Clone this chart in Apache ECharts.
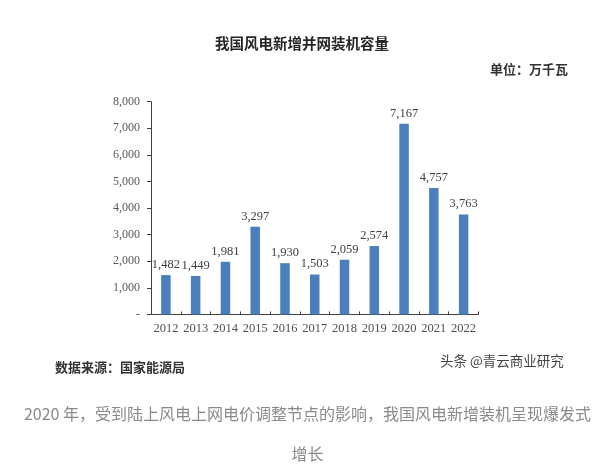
<!DOCTYPE html>
<html>
<head>
<meta charset="utf-8">
<script src="https://cdn.jsdelivr.net/npm/echarts@6/dist/echarts.min.js"></script>
<style>
html,body{margin:0;padding:0;background:#fff;}
#c{width:615px;height:469px;}
</style>
</head>
<body>
<div id="c"></div>
<script>
var years = ['2012','2013','2014','2015','2016','2017','2018','2019','2020','2021','2022'];
var capacity = [1482, 1449, 1981, 3297, 1930, 1503, 2059, 2574, 7167, 4757, 3763];
var yMax = 8000;
var yStep = 1000;
var titleText = '我国风电新增并网装机容量';
var unitText = '单位：万千瓦';
var sourceText = '数据来源：国家能源局';
var markText = '头条 @青云商业研究';
var captionLine1 = '2020 年，受到陆上风电上网电价调整节点的影响，我国风电新增装机呈现爆发式';
var captionLine2 = '增长';

function fmt(v){
  if (v === 0) return '-';
  return String(v).replace(/\B(?=(\d{3})+(?!\d))/g, ',');
}
var serif = '"Liberation Serif","Times New Roman",serif';
var cjk = '"Noto Sans CJK SC","Noto Sans",sans-serif';

var chart = echarts.init(document.getElementById('c'));
chart.setOption({
  animation: false,
  backgroundColor: '#ffffff',
  grid: {left: 151, right: 136.5, top: 101.7, bottom: 154.5, containLabel: false},
  xAxis: {
    type: 'category',
    data: years,
    axisLine: {lineStyle: {color: '#404040', width: 1}},
    axisTick: {show: true, inside: true, length: 3, alignWithLabel: false, lineStyle: {color: '#404040'}},
    axisLabel: {color: '#505050', fontFamily: serif, fontSize: 12.5, margin: 8, interval: 0}
  },
  yAxis: {
    type: 'value',
    min: 0, max: yMax, interval: yStep,
    splitLine: {show: false},
    axisLine: {show: true, lineStyle: {color: '#404040', width: 1}},
    axisTick: {show: true, length: 4, lineStyle: {color: '#404040'}},
    axisLabel: {color: '#595959', fontFamily: serif, fontSize: 12, margin: 11, formatter: fmt}
  },
  series: [{
    type: 'bar',
    data: capacity,
    barWidth: 9.5,
    itemStyle: {color: '#4a7ebd'},
    label: {show: true, position: 'top', distance: 4, color: '#404040', fontFamily: serif, fontSize: 12.5, formatter: function(p){return fmt(p.value);}}
  }],
  graphic: [
    {type: 'text', left: 215, top: 36, style: {text: titleText, font: 'bold 14.5px ' + cjk, fill: '#262626'}},
    {type: 'text', right: 47, top: 63, style: {text: unitText, font: 'bold 13px ' + cjk, fill: '#333333'}},
    {type: 'text', left: 55, top: 361, style: {text: sourceText, font: 'bold 13px ' + cjk, fill: '#333333'}},
    {type: 'text', left: 440, top: 354, style: {text: markText, font: '13.5px ' + cjk, fill: '#444444'}},
    {type: 'text', left: 'center', top: 406, style: {text: captionLine1, font: '16px ' + cjk, fill: '#8a8a8a'}},
    {type: 'text', left: 'center', top: 446, style: {text: captionLine2, font: '16px ' + cjk, fill: '#8a8a8a'}}
  ]
});
</script>
</body>
</html>
